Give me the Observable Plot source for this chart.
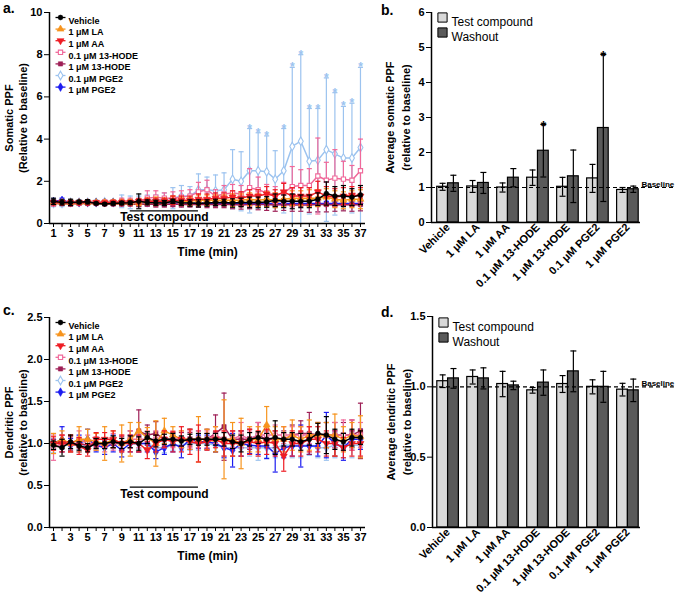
<!DOCTYPE html>
<html><head><meta charset="utf-8">
<script src="https://cdn.jsdelivr.net/npm/d3@7"></script>
<script src="https://cdn.jsdelivr.net/npm/@observablehq/plot@0.6"></script>
<style>
body{margin:0;background:#fff;}
#wrap{position:relative;width:675px;height:598px;font-family:"Liberation Sans",Arial,sans-serif;overflow:hidden;}
.panel{position:absolute;}
.lbl{position:absolute;font-weight:bold;font-size:14px;line-height:16px;}
</style>
</head><body><div id="wrap"></div>
<script>
// ---------- shared categories ----------
const seriesNames = ["Vehicle","1 μM LA","1 μM AA","0.1 μM 13-HODE","1 μM 13-HODE","0.1 μM PGE2","1 μM PGE2"];
const seriesColors = ["#000000","#f7941d","#ee1c24","#f0699a","#9e1f56","#9cc3ef","#1c1cf0"];
const times = [1,2,3,4,5,6,7,8,9,10,11,12,13,14,15,16,17,18,19,20,21,22,23,24,25,26,27,28,29,30,31,32,33,34,35,36,37];
const timeTickLabels = [1,3,5,7,9,11,13,15,17,19,21,23,25,27,29,31,33,35,37];

// ---------- panel a: somatic PPF (mean, SEM) ----------
const aVehicleMean = [1.05,1.0,1.0,1.02,1.03,0.95,0.92,0.95,0.97,0.98,1.05,1.0,0.98,0.97,1.05,0.98,0.97,0.95,0.97,1.0,1.0,0.97,1.0,1.0,1.0,1.02,1.1,1.05,1.05,1.05,1.05,1.15,1.42,1.3,1.3,1.25,1.35];
const aVehicleSem  = [0.15,0.12,0.15,0.08,0.1,0.05,0.05,0.07,0.08,0.08,0.35,0.12,0.12,0.12,0.1,0.12,0.15,0.17,0.15,0.15,0.15,0.2,0.2,0.25,0.25,0.25,0.3,0.3,0.35,0.3,0.3,0.3,0.55,0.45,0.5,0.4,0.45];
const aLAMean = [1.0,1.0,1.0,1.0,1.0,1.0,1.0,1.0,1.0,1.0,1.0,1.05,1.05,1.05,1.1,1.05,1.05,1.1,1.1,1.1,1.1,1.1,1.1,1.15,1.1,1.15,1.1,1.15,1.2,1.2,1.2,1.2,1.25,1.15,1.1,1.15,1.15];
const aLASem  = [0.1,0.1,0.1,0.08,0.1,0.08,0.08,0.1,0.1,0.12,0.15,0.15,0.2,0.15,0.2,0.2,0.2,0.25,0.25,0.25,0.25,0.3,0.3,0.3,0.3,0.35,0.35,0.35,0.35,0.35,0.4,0.4,0.4,0.4,0.4,0.4,0.45];
const aAAMean = [1.0,1.0,0.98,1.0,1.0,1.0,0.98,1.0,1.0,1.0,1.05,1.05,1.05,1.05,1.1,1.1,1.1,1.15,1.15,1.2,1.2,1.25,1.2,1.3,1.3,1.4,1.3,1.5,1.3,1.3,1.3,1.5,1.3,1.25,1.3,1.35,1.3];
const aAASem  = [0.1,0.08,0.1,0.08,0.08,0.08,0.08,0.1,0.1,0.1,0.12,0.15,0.15,0.15,0.2,0.2,0.2,0.25,0.25,0.25,0.25,0.3,0.3,0.3,0.3,0.35,0.3,0.4,0.4,0.4,0.4,0.5,0.45,0.4,0.4,0.4,0.4];
const aHode01Mean = [0.95,1.0,1.0,0.98,1.0,0.98,1.02,1.0,1.05,1.05,1.05,1.2,1.25,1.2,1.2,1.25,1.3,1.5,1.6,1.3,1.4,1.45,1.4,1.7,1.6,1.45,1.35,1.45,1.75,1.8,1.8,2.25,2.05,2.15,2.1,2.05,2.5];
const aHode01Sem  = [0.12,0.1,0.1,0.08,0.08,0.08,0.08,0.1,0.15,0.15,0.15,0.35,0.3,0.25,0.3,0.3,0.3,0.45,0.45,0.3,0.4,0.4,0.4,0.9,0.6,0.4,0.4,0.5,0.95,0.75,0.8,1.8,0.85,1.35,0.85,0.7,1.5];
const aHode1Mean = [0.95,0.95,0.92,0.95,0.95,0.95,0.92,0.92,0.92,0.92,0.9,0.92,0.9,0.9,0.92,0.9,0.9,0.9,0.9,0.9,0.9,0.9,0.88,0.9,0.9,0.9,0.88,0.9,0.88,0.88,0.88,0.9,0.9,0.88,0.9,0.88,0.9];
const aHode1Sem  = [0.08,0.08,0.08,0.06,0.06,0.06,0.06,0.06,0.08,0.08,0.1,0.1,0.12,0.12,0.12,0.12,0.12,0.12,0.15,0.15,0.15,0.2,0.2,0.2,0.25,0.28,0.3,0.28,0.3,0.3,0.35,0.35,0.35,0.3,0.3,0.3,0.3];
const aPge01Mean = [0.95,0.95,1.0,1.0,1.0,1.0,1.02,1.0,1.05,1.0,1.05,1.1,1.1,1.15,1.2,1.3,1.3,1.6,1.6,1.55,1.6,2.1,2.0,2.5,2.5,2.45,2.1,2.5,3.65,3.9,2.95,3.0,3.5,3.3,3.1,3.1,3.6];
const aPge01Sem  = [0.15,0.15,0.1,0.1,0.1,0.1,0.1,0.1,0.3,0.3,0.25,0.25,0.25,0.3,0.5,0.5,0.45,0.75,0.6,0.75,0.8,1.4,1.4,2.0,1.8,1.7,1.35,2.0,3.75,4.1,2.5,2.45,3.4,2.9,2.45,2.6,3.8];
const aPge1Mean = [1.05,1.1,1.0,1.0,1.0,1.0,1.0,1.0,1.0,1.0,0.98,0.98,0.98,0.98,0.97,0.97,0.97,0.97,0.97,0.95,0.95,0.95,0.95,0.95,0.95,0.95,0.95,0.95,0.95,0.95,0.95,0.95,0.95,0.95,0.95,0.95,0.95];
const aPge1Sem  = [0.1,0.1,0.08,0.06,0.06,0.06,0.06,0.06,0.06,0.06,0.06,0.06,0.06,0.08,0.08,0.08,0.08,0.08,0.08,0.08,0.08,0.08,0.1,0.1,0.1,0.1,0.1,0.1,0.1,0.1,0.1,0.1,0.1,0.1,0.1,0.1,0.1];
const aStarTimes = [24,25,26,28,29,30,31,32,33,34,35,36,37]; // significant points of 0.1 μM PGE2

// ---------- panel c: dendritic PPF (mean, SEM) ----------
const cVehicleMean = [0.98,0.95,1.02,0.97,0.95,1.0,1.0,1.02,1.0,1.02,1.0,1.07,1.03,1.05,1.05,1.03,1.05,1.05,1.05,1.05,1.05,1.02,1.0,1.05,1.07,1.05,1.07,1.05,1.05,1.02,1.05,1.12,1.1,1.05,1.02,1.07,1.07];
const cVehicleSem  = [0.05,0.1,0.08,0.05,0.05,0.06,0.06,0.07,0.06,0.07,0.08,0.07,0.07,0.06,0.07,0.06,0.06,0.07,0.07,0.07,0.08,0.08,0.1,0.08,0.07,0.07,0.2,0.08,0.08,0.1,0.07,0.12,0.22,0.12,0.1,0.1,0.08];
const cLAMean = [1.0,1.05,1.0,1.05,1.05,1.02,1.0,1.05,1.0,1.05,1.15,1.07,1.0,1.15,1.1,1.05,1.05,1.05,1.05,1.05,1.05,1.05,1.0,1.05,1.05,1.22,1.05,1.05,1.1,1.05,1.1,1.1,1.1,1.1,1.05,1.1,1.08];
const cLASem  = [0.12,0.1,0.1,0.15,0.12,0.1,0.2,0.1,0.22,0.2,0.1,0.12,0.27,0.15,0.1,0.1,0.12,0.27,0.12,0.15,0.47,0.2,0.3,0.15,0.15,0.22,0.15,0.15,0.18,0.15,0.18,0.15,0.15,0.25,0.15,0.15,0.25];
const cAAMean = [1.0,1.0,1.0,0.97,0.92,1.05,1.05,1.05,1.0,1.0,1.0,0.92,1.0,1.05,1.02,1.05,1.02,1.0,1.02,1.05,1.0,1.0,1.0,1.02,1.0,1.02,1.0,0.85,1.0,1.0,1.05,1.05,1.0,1.0,0.95,1.0,1.0];
const cAASem  = [0.08,0.1,0.1,0.1,0.07,0.08,0.08,0.1,0.1,0.1,0.1,0.1,0.1,0.1,0.12,0.15,0.15,0.22,0.1,0.1,0.15,0.15,0.15,0.15,0.15,0.15,0.15,0.18,0.15,0.15,0.15,0.15,0.15,0.15,0.12,0.15,0.15];
const cHode01Mean = [0.95,1.0,1.0,1.05,1.0,1.0,0.98,1.02,1.0,1.05,1.05,1.05,1.05,1.05,1.05,1.05,1.05,1.05,1.05,1.1,1.05,1.05,1.1,1.05,1.1,1.1,1.1,1.1,1.1,1.1,1.1,1.1,1.1,1.1,1.1,1.1,1.1];
const cHode01Sem  = [0.15,0.1,0.1,0.1,0.1,0.08,0.08,0.1,0.1,0.1,0.1,0.1,0.1,0.1,0.1,0.1,0.1,0.1,0.1,0.1,0.1,0.1,0.15,0.1,0.15,0.12,0.12,0.1,0.1,0.1,0.1,0.15,0.15,0.15,0.18,0.18,0.15];
const cHode1Mean = [1.0,1.02,1.0,1.0,0.98,1.0,1.0,1.0,1.0,1.05,1.15,1.1,1.12,1.05,1.05,1.05,1.05,1.05,1.05,1.12,1.2,1.05,1.05,1.05,1.1,1.05,1.05,1.05,1.1,1.12,1.12,1.1,1.1,1.1,1.1,1.1,1.15];
const cHode1Sem  = [0.05,0.08,0.08,0.05,0.05,0.05,0.05,0.05,0.08,0.1,0.25,0.12,0.14,0.08,0.08,0.08,0.08,0.1,0.12,0.22,0.4,0.1,0.1,0.12,0.15,0.1,0.1,0.1,0.12,0.15,0.25,0.15,0.15,0.15,0.15,0.18,0.33];
const cPge01Mean = [0.97,0.98,0.98,0.98,0.97,0.98,1.0,1.0,1.0,1.0,1.0,1.0,0.95,0.95,0.98,0.98,1.0,1.0,1.0,0.98,0.95,0.95,0.95,0.95,0.95,0.95,0.95,0.98,0.98,0.98,0.98,0.95,0.95,0.98,0.98,0.98,0.98];
const cPge01Sem  = [0.08,0.05,0.05,0.05,0.05,0.05,0.05,0.06,0.06,0.06,0.06,0.06,0.06,0.06,0.06,0.06,0.08,0.08,0.08,0.08,0.1,0.1,0.1,0.1,0.15,0.12,0.12,0.12,0.15,0.15,0.12,0.12,0.15,0.15,0.15,0.15,0.15];
const cPge1Mean = [1.0,1.05,0.98,1.0,1.05,0.98,0.95,1.0,0.92,1.0,1.0,1.0,0.9,0.95,1.0,0.95,1.05,1.02,1.02,1.0,0.95,0.92,1.0,0.98,0.97,0.97,0.88,0.95,0.97,0.97,0.97,0.97,1.1,1.0,0.95,1.05,1.05];
const cPge1Sem  = [0.05,0.15,0.08,0.1,0.12,0.08,0.08,0.1,0.08,0.1,0.1,0.1,0.08,0.08,0.1,0.12,0.12,0.08,0.08,0.1,0.12,0.2,0.15,0.1,0.1,0.15,0.22,0.12,0.12,0.25,0.1,0.12,0.27,0.15,0.15,0.1,0.12];

// ---------- panel b: average somatic PPF ----------
const bTestMean = [1.02,1.03,1.0,1.28,1.02,1.26,0.93];
const bTestSem  = [0.1,0.17,0.13,0.22,0.27,0.4,0.07];
const bWashMean = [1.12,1.13,1.28,2.05,1.32,2.7,0.95];
const bWashSem  = [0.23,0.3,0.26,0.75,0.75,2.1,0.09];
const bWashStars = [false,false,false,true,false,true,false];

// ---------- panel d: average dendritic PPF ----------
const dTestMean = [1.04,1.07,1.02,0.975,1.02,1.0,0.98];
const dTestSem  = [0.045,0.05,0.09,0.02,0.06,0.05,0.045];
const dWashMean = [1.06,1.06,1.01,1.03,1.11,1.0,0.975];
const dWashSem  = [0.07,0.075,0.03,0.09,0.145,0.11,0.08];

const groupNames = ["Test compound","Washout"];
const groupColors = ["#d9d9d9","#5a5a5a"];
const testCompoundSpan = [10, 18];

// ---------- symbols ----------
const triDown = {draw(ctx, size){ const y = -Math.sqrt(size/(Math.sqrt(3)*3)); ctx.moveTo(0,-y*2); ctx.lineTo(-Math.sqrt(3)*y, y); ctx.lineTo(Math.sqrt(3)*y, y); ctx.closePath(); }};
const hStub = {draw(ctx){ ctx.moveTo(-5,0); ctx.lineTo(5,0); }};
const seriesSymbols = ["circle","triangle",triDown,"square","square","diamond","diamond"];
const seriesOpen = [false,false,false,true,false,true,false];
const seriesR = [2.4,2.6,2.6,2.4,2.4,2.6,2.6];
const drawOrder = [5,6,4,3,1,2,0];

const baseStyle = {fontFamily:"'Liberation Sans', Arial, sans-serif", fontSize:"11px", fontWeight:"bold", color:"black", background:"transparent", overflow:"visible"};

function yTitle(lines, offsets) {
  return lines.map((t, i) => Plot.text([t], {frameAnchor:"left", rotate:-90, dx:offsets[i], text:d=>d, textAnchor:"middle", lineAnchor:"middle", fontSize:11}));
}

function timePanel({means, sems, yDomain, yTicks, yFmt, ylabel, marginTop, marginBottom, height, tcY, stars}) {
  const xDomain = [0.53, 37.59];
  const marks = [];
  for (const k of drawOrder) {
    const c = seriesColors[k];
    const rows = times.map((t,j) => ({t, m: means[k][j], lo: means[k][j]-sems[k][j], hi: means[k][j]+sems[k][j]}));
    marks.push(
      Plot.ruleX(rows, {x:"t", y1:"lo", y2:"hi", stroke:c, strokeWidth:1.2, clip:true}),
      Plot.link(rows, {x1:d=>d.t-0.3, x2:d=>d.t+0.3, y1:"hi", y2:"hi", stroke:c, strokeWidth:1.2, clip:true}),
      Plot.link(rows, {x1:d=>d.t-0.3, x2:d=>d.t+0.3, y1:"lo", y2:"lo", stroke:c, strokeWidth:1.2, clip:true}),
      Plot.line(rows, {x:"t", y:"m", stroke:c, strokeWidth:1.5}),
      Plot.dot(rows, {x:"t", y:"m", symbol:seriesSymbols[k], r:seriesR[k], fill: seriesOpen[k] ? "white" : c, stroke:c, strokeWidth: seriesOpen[k] ? 1.1 : 0.6})
    );
    if (stars && stars.k === k) {
      const srows = rows.filter(d => stars.t.includes(d.t));
      marks.push(Plot.text(srows, {x:"t", y:"hi", text:()=>"*", fill:c, fontSize:12, lineAnchor:"bottom", dy:4}));
    }
  }
  // legend
  seriesNames.forEach((name, k) => {
    const c = seriesColors[k];
    const dy = 5 + k*11.6;
    marks.push(
      Plot.dot([name], {frameAnchor:"top-left", dx:11, dy, symbol:hStub, stroke:c, fill:"none", strokeWidth:1.3}),
      Plot.dot([name], {frameAnchor:"top-left", dx:11, dy, symbol:seriesSymbols[k], r:seriesR[k], fill: seriesOpen[k] ? "white" : c, stroke:c, strokeWidth: seriesOpen[k] ? 1.1 : 0.6}),
      Plot.text([name], {frameAnchor:"top-left", dx:19, dy, text:d=>d, textAnchor:"start", fontSize:9})
    );
  });
  // test compound annotation
  marks.push(
    Plot.ruleY([tcY], {x1:testCompoundSpan[0], x2:testCompoundSpan[1], stroke:"black", strokeWidth:1.3}),
    Plot.text(["Test compound"], {x:(testCompoundSpan[0]+testCompoundSpan[1])/2, y:tcY, text:d=>d, lineAnchor:"top", dy:2, fontSize:12})
  );
  // axes
  marks.push(
    Plot.ruleX([xDomain[0]], {stroke:"black", strokeWidth:1.5}),
    Plot.ruleY([yDomain[0]], {stroke:"black", strokeWidth:1.5}),
    Plot.axisX({ticks: times, tickSize:4, tickPadding:2, tickFormat: d => timeTickLabels.includes(d) ? String(d) : "", fontSize:11, label:null}),
    Plot.text(["Time (min)"], {frameAnchor:"bottom", dy:29, text:d=>d, lineAnchor:"middle", fontSize:12}),
    Plot.axisY({ticks: yTicks, tickSize:5, tickPadding:2, tickFormat: yFmt, fontSize:11, label:null}),
    ...yTitle(ylabel, [-40, -26])
  );
  return Plot.plot({
    width:378, height, marginLeft:49, marginRight:13, marginTop, marginBottom,
    x:{domain:xDomain}, y:{domain:yDomain},
    style: baseStyle,
    marks
  });
}

function barPanel({test, testSem, wash, washSem, stars, yDomain, yTicks, yFmt, ylabel, marginLeft, xStart, marginTop, marginBottom, height, legendDy}) {
  const halfW = 0.36;
  const rows = seriesNames.flatMap((name, i) => [
    {i, g:0, x1:i-halfW, x2:i, cx:i-halfW/2, v:test[i], s:testSem[i], star:false},
    {i, g:1, x1:i, x2:i+halfW, cx:i+halfW/2, v:wash[i], s:washSem[i], star: stars ? stars[i] : false}
  ]);
  const marks = [
    Plot.rect(rows, {x1:"x1", x2:"x2", y1:0, y2:"v", fill:d=>groupColors[d.g], stroke:"black", strokeWidth:1.2}),
    Plot.ruleX(rows, {x:"cx", y1:d=>d.v-d.s, y2:d=>d.v+d.s, stroke:"black", strokeWidth:1.2}),
    Plot.link(rows, {x1:d=>d.cx-0.1, x2:d=>d.cx+0.1, y1:d=>d.v+d.s, y2:d=>d.v+d.s, stroke:"black", strokeWidth:1.2}),
    Plot.link(rows, {x1:d=>d.cx-0.1, x2:d=>d.cx+0.1, y1:d=>d.v-d.s, y2:d=>d.v-d.s, stroke:"black", strokeWidth:1.2}),
    Plot.text(rows.filter(d=>d.star), {x:"cx", y:d=>d.v+d.s, text:()=>"*", fontSize:14, lineAnchor:"bottom", dy:6}),
    Plot.ruleY([1], {x1:xStart, x2:7.55, stroke:"black", strokeWidth:1.2, strokeDasharray:"4,3"}),
    Plot.text(["Baseline"], {x:6.45, y:1, text:d=>d, textAnchor:"start", lineAnchor:"bottom", dy:-1, fontSize:8}),
    Plot.ruleX([xStart], {stroke:"black", strokeWidth:1.5}),
    Plot.ruleY([0], {stroke:"black", strokeWidth:1.5}),
    Plot.axisY({ticks:yTicks, tickSize:5, tickPadding:2, tickFormat:yFmt, fontSize:11, label:null}),
    ...yTitle(ylabel, [-41, -25]),
    Plot.axisX({ticks:[0,1,2,3,4,5,6], tickSize:0, tickPadding:3, tickRotate:-45, tickFormat:d=>seriesNames[d], fontSize:11, label:null})
  ];
  groupNames.forEach((name, g) => {
    const dy = legendDy[g];
    marks.push(
      Plot.dot([name], {frameAnchor:"top-left", dx:11, dy, symbol:"square", r:5.2, fill:groupColors[g], stroke:"black", strokeWidth:1}),
      Plot.text([name], {frameAnchor:"top-left", dx:20, dy, text:d=>d, textAnchor:"start", fontSize:12, fontWeight:"normal"})
    );
  });
  return Plot.plot({
    width:295, height, marginLeft, marginRight:35, marginTop, marginBottom,
    x:{domain:[xStart, 6.42]}, y:{domain:yDomain},
    style: baseStyle,
    marks
  });
}

const wrap = document.getElementById("wrap");
function place(node, left, top) {
  const div = document.createElement("div");
  div.className = "panel";
  div.style.left = left + "px"; div.style.top = top + "px";
  div.appendChild(node);
  wrap.appendChild(div);
}
function label(txt, left, top) {
  const div = document.createElement("div");
  div.className = "lbl"; div.textContent = txt;
  div.style.left = left + "px"; div.style.top = top + "px";
  wrap.appendChild(div);
}

place(timePanel({
  means:[aVehicleMean,aLAMean,aAAMean,aHode01Mean,aHode1Mean,aPge01Mean,aPge1Mean],
  sems:[aVehicleSem,aLASem,aAASem,aHode01Sem,aHode1Sem,aPge01Sem,aPge1Sem],
  yDomain:[0,10], yTicks:[0,2,4,6,8,10], yFmt:d=>String(d),
  ylabel:["Somatic PPF","(Relative to baseline)"],
  marginTop:12, marginBottom:77, height:300, tcY:0.6,
  stars:{k:5, t:aStarTimes}
}), 0, 0);

place(timePanel({
  means:[cVehicleMean,cLAMean,cAAMean,cHode01Mean,cHode1Mean,cPge01Mean,cPge1Mean],
  sems:[cVehicleSem,cLASem,cAASem,cHode01Sem,cHode1Sem,cPge01Sem,cPge1Sem],
  yDomain:[0,2.5], yTicks:[0,0.5,1,1.5,2,2.5], yFmt:d3.format(".1f"),
  ylabel:["Dendritic PPF","(relative to baseline)"],
  marginTop:17, marginBottom:71, height:298, tcY:0.48, stars:null
}), 0, 300);

place(barPanel({
  test:bTestMean, testSem:bTestSem, wash:bWashMean, washSem:bWashSem, stars:bWashStars,
  yDomain:[0,6], yTicks:[0,1,2,3,4,5,6], yFmt:d=>String(d),
  ylabel:["Average somatic PPF","(relative to baseline)"],
  marginLeft:51, xStart:-0.55, marginTop:12, marginBottom:78, height:300, legendDy:[5,20]
}), 380, 0);

place(barPanel({
  test:dTestMean, testSem:dTestSem, wash:dWashMean, washSem:dWashSem, stars:null,
  yDomain:[0,1.5], yTicks:[0,0.5,1,1.5], yFmt:d3.format(".1f"),
  ylabel:["Average dendritic PPF","(relative to baseline)"],
  marginLeft:52, xStart:-0.52, marginTop:16, marginBottom:71, height:298, legendDy:[6,21]
}), 380, 300);

label("a.", 3, 0);
label("b.", 381, 2);
label("c.", 3, 302);
label("d.", 381, 304);
</script>
</body></html>
